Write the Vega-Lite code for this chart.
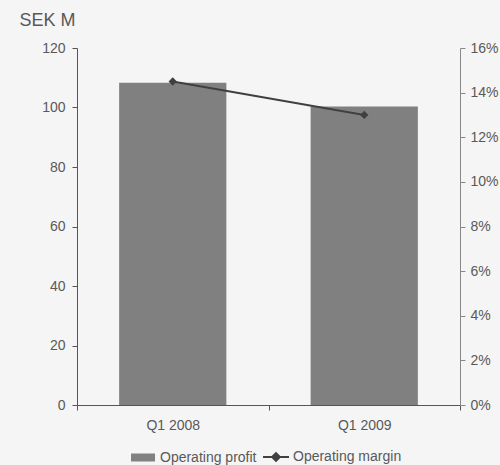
{
  "$schema": "https://vega.github.io/schema/vega-lite/v6.json",
  "width": 383,
  "height": 357,
  "autosize": "none",
  "padding": {"left": 77, "top": 48, "right": 40, "bottom": 60},
  "background": "#f5f5f5",
  "data": {"values": [
    {"quarter": "Q1 2008", "profit": 108.3, "margin": 14.5},
    {"quarter": "Q1 2009", "profit": 100.3, "margin": 13.0}
  ]},
  "encoding": {
    "x": {
      "field": "quarter", "type": "nominal",
      "scale": {"paddingInner": 0, "paddingOuter": 0},
      "axis": {"title": null, "labelAngle": 0, "tickBand": "extent", "tickSize": 5, "labelPadding": 8, "domainColor": "#555555", "tickColor": "#555555"}
    }
  },
  "layer": [
    {
      "mark": {"type": "bar", "width": {"band": 0.56}},
      "encoding": {
        "y": {
          "field": "profit", "type": "quantitative",
          "scale": {"domain": [0, 120], "nice": false},
          "axis": {"values": [0, 20, 40, 60, 80, 100, 120], "grid": false, "title": "SEK M", "titleAngle": 0, "titleX": -58, "titleY": -23, "titleAlign": "left", "titleBaseline": "alphabetic", "titleFontSize": 18, "titleFontWeight": "normal", "titleColor": "#595959", "tickSize": 5, "labelPadding": 7, "domainColor": "#555555", "tickColor": "#555555"}
        },
        "color": {"datum": "Operating profit", "type": "nominal",
          "scale": {"domain": ["Operating profit", "Operating margin"], "range": ["#808080", "#404040"]},
          "legend": {
            "title": null, "orient": "bottom", "direction": "horizontal", "offset": 18,
            "symbolSize": 676, "labelOffset": 10, "columnPadding": 2,
            "encode": {"symbols": {"update": {
              "shape": {"signal": "datum.value === 'Operating profit' ? 'M-1,-0.333H1V0.333H-1Z' : 'M-1,0H1M-0.3,0L0,-0.3L0.3,0L0,0.3Z'"},
              "size": {"signal": "datum.value === 'Operating profit' ? 576 : 676"},
              "fill": {"signal": "datum.value === 'Operating profit' ? '#808080' : '#404040'"},
              "stroke": {"signal": "datum.value === 'Operating profit' ? '#808080' : '#404040'"},
              "strokeWidth": {"signal": "datum.value === 'Operating profit' ? 0 : 2"},
              "opacity": {"value": 1},
              "fillOpacity": {"value": 1}
            }}}
          }
        }
      }
    },
    {
      "mark": {"type": "line", "strokeWidth": 2, "point": {"filled": true, "shape": "diamond", "size": 70, "opacity": 1}},
      "encoding": {
        "y": {
          "field": "margin", "type": "quantitative",
          "scale": {"domain": [0, 16], "nice": false},
          "axis": {"orient": "right", "values": [0, 2, 4, 6, 8, 10, 12, 14, 16], "labelExpr": "datum.value + '%'", "grid": false, "title": null, "tickSize": 5, "labelPadding": 5, "domainColor": "#888888", "tickColor": "#888888"}
        },
        "color": {"datum": "Operating margin", "type": "nominal"}
      }
    }
  ],
  "resolve": {"scale": {"y": "independent"}},
  "config": {
    "font": "Liberation Sans",
    "view": {"stroke": null},
    "axis": {"labelFontSize": 14, "labelColor": "#595959", "labelFont": "Liberation Sans", "domainWidth": 1, "tickWidth": 1},
    "legend": {"labelFontSize": 14, "labelColor": "#595959", "labelFont": "Liberation Sans", "layout": {"bottom": {"anchor": "middle", "direction": "horizontal", "center": true}}}
  }
}
